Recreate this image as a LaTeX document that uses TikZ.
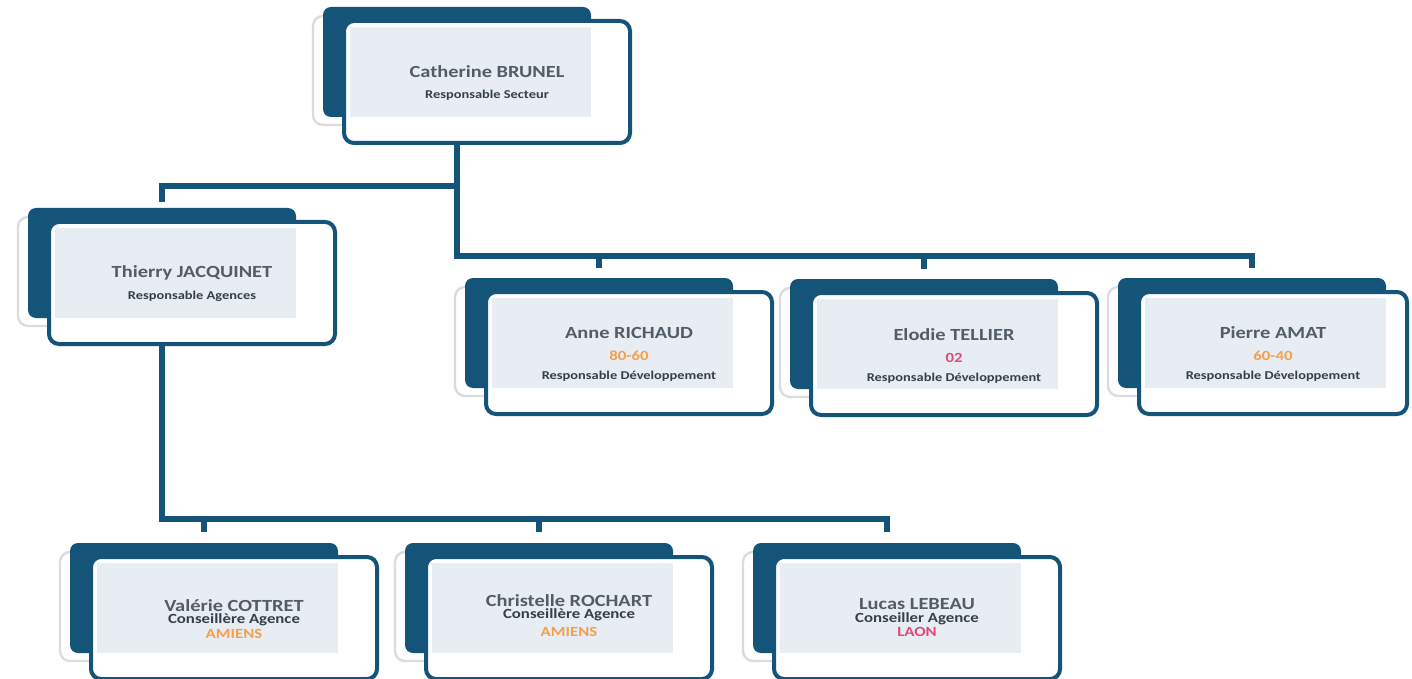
\documentclass[tikz,border=0pt]{standalone}
\usepackage{fontspec}
\setmainfont{Carlito}
\usepackage{graphicx}
\usetikzlibrary{calc}
\definecolor{cdark}{HTML}{135478}
\definecolor{cpanel}{HTML}{E7EDF2}
\definecolor{cname}{HTML}{525D68}
\definecolor{csub}{HTML}{34404B}
\definecolor{corange}{HTML}{F5A04A}
\definecolor{cpink}{HTML}{E2497A}
\definecolor{cglow}{HTML}{DCDCE0}
\newcommand\sx[1]{\scalebox{1.2}[1]{#1}}
\tikzset{
  backbox/.style={fill=cdark, rounded corners=4pt, minimum width=134pt, minimum height=55pt,
    anchor=north west, inner sep=0pt, outer sep=0pt, draw=none},
  frontbox/.style={fill=white, draw=cdark, line width=2pt, rounded corners=5pt,
    minimum height=61pt, anchor=north west, inner sep=0pt, outer sep=0pt},
  glowline/.style={draw=cglow, fill=white, line width=1.2pt, rounded corners=5pt},
  link/.style={draw=cdark, line width=2.6pt, line join=miter},
  nametxt/.style={font=\fontsize{8.5}{9}\selectfont\bfseries, text=cname, inner sep=0pt},
  subtxt/.style={font=\fontsize{6}{7}\selectfont\bfseries, text=csub, inner sep=0pt},
  bsubtxt/.style={font=\fontsize{7}{8}\selectfont\bfseries, text=csub, inner sep=0pt},
  codetxt/.style={font=\fontsize{7}{8}\selectfont\bfseries, inner sep=0pt},
}
% #1 id, #2 back x (px), #3 back y (px), #4 front width (pt)
\newcommand\orgcard[4]{%
  \draw[glowline] ({#2-10},{#3+9}) rectangle ({#2+258},{#3+118});
  \node[backbox] (#1-b) at (#2,#3) {};
  \node[frontbox, minimum width=#4] (#1) at ({#2+21},{#3+14}) {};
  \fill[cpanel] ($(#1.north west)+(6,6)$) rectangle (#1-b.south east);
}
\begin{document}
\begin{tikzpicture}[x=0.5pt, y=-0.5pt]
\fill[white] (0,0) rectangle (1412,679);
\useasboundingbox (0,0) rectangle (1412,679);

% cards
\orgcard{cath}{323}{7}{143pt}
\orgcard{thie}{28}{208}{143pt}
\orgcard{anne}{465}{278}{143pt}
\orgcard{elod}{790}{279}{143pt}
\orgcard{pier}{1118}{278}{134pt}
\orgcard{vale}{70}{543}{143pt}
\orgcard{chri}{405}{543}{143pt}
\orgcard{luca}{753}{543}{143pt}

% texts
\node[nametxt] (cath-n) at ($(cath.center)+(0,-10)$) {\sx{Catherine BRUNEL}};
\node[subtxt]  (cath-s) at ($(cath.center)+(0,13)$) {\sx{Responsable Secteur}};

\node[nametxt] (thie-n) at ($(thie.center)+(0,-10)$) {\sx{Thierry JACQUINET}};
\node[subtxt]  (thie-s) at ($(thie.center)+(0,13)$) {\sx{Responsable Agences}};

\node[nametxt] (anne-n) at ($(anne.center)+(0,-20)$) {\sx{Anne RICHAUD}};
\node[codetxt, text=corange] (anne-c) at ($(anne.center)+(0,3)$) {\sx{80-60}};
\node[subtxt]  (anne-s) at ($(anne.center)+(0,23)$) {\sx{Responsable Développement}};

\node[nametxt] (elod-n) at ($(elod.center)+(0,-19)$) {\sx{Elodie TELLIER}};
\node[codetxt, text=cpink] (elod-c) at ($(elod.center)+(0,4)$) {\sx{02}};
\node[subtxt]  (elod-s) at ($(elod.center)+(0,24)$) {\sx{Responsable Développement}};

\node[nametxt] (pier-n) at ($(pier.center)+(0,-20)$) {\sx{Pierre AMAT}};
\node[codetxt, text=corange] (pier-c) at ($(pier.center)+(0,3)$) {\sx{60-40}};
\node[subtxt]  (pier-s) at ($(pier.center)+(0,23)$) {\sx{Responsable Développement}};

\node[nametxt] (vale-n) at ($(vale.center)+(0,-12)$) {\sx{Valérie COTTRET}};
\node[bsubtxt] (vale-s) at ($(vale.center)+(0,2)$) {\sx{Conseillère Agence}};
\node[codetxt, text=corange] (vale-c) at ($(vale.center)+(0,16)$) {\sx{AMIENS}};

\node[nametxt] (chri-n) at ($(chri.center)+(0,-17)$) {\sx{Christelle ROCHART}};
\node[bsubtxt] (chri-s) at ($(chri.center)+(0,-3)$) {\sx{Conseillère Agence}};
\node[codetxt, text=corange] (chri-c) at ($(chri.center)+(0,14)$) {\sx{AMIENS}};

\node[nametxt] (luca-n) at ($(luca.center)+(0,-14)$) {\sx{Lucas LEBEAU}};
\node[bsubtxt] (luca-s) at ($(luca.center)+(0,1)$) {\sx{Conseiller Agence}};
\node[codetxt, text=cpink] (luca-c) at ($(luca.center)+(0,14)$) {\sx{LAON}};

% connectors
\coordinate (jl) at (458,186);
\coordinate (jr) at (458,256);
\coordinate (jb) at (162,519);

\draw[link, shorten >=5pt] (cath.south -| cath-b.south) |- (jr -| pier-b.north) -- (pier-b.north);
\draw[link, shorten >=5pt] (jr -| anne-b.north) -- (anne-b.north);
\draw[link, shorten >=5pt] (jr -| elod-b.north) -- (elod-b.north);
\draw[link, shorten >=3pt] (jl) -| (thie-b.north);

\draw[link, shorten >=5.5pt] (thie.south -| thie-b.south) |- (jb -| luca-b.north) -- (luca-b.north);
\draw[link, shorten >=5.5pt] (jb -| vale-b.north) -- (vale-b.north);
\draw[link, shorten >=5.5pt] (jb -| chri-b.north) -- (chri-b.north);
\end{tikzpicture}
\end{document}
